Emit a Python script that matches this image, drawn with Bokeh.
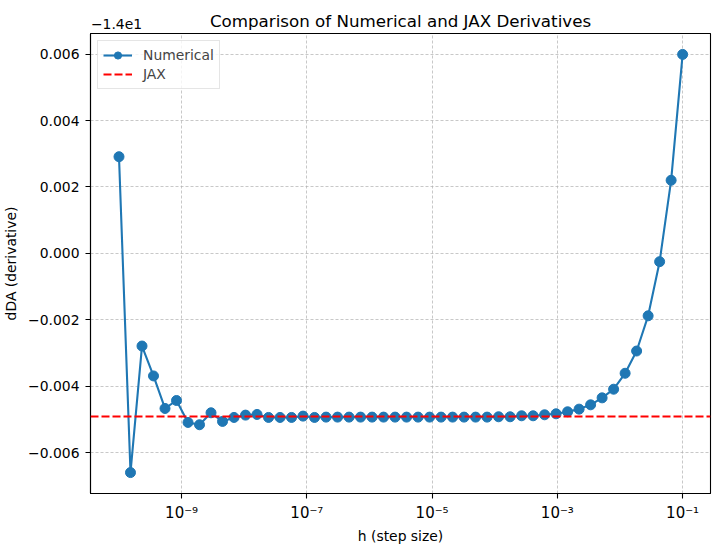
from bokeh.plotting import figure
from bokeh.models import (Range1d, FixedTicker, CustomJSTickFormatter, Span, LogAxis)
from bokeh.embed import file_html
from bokeh.resources import INLINE

# ---- data ----
h_values = [
    1.000e-10, 1.526e-10, 2.330e-10, 3.556e-10, 5.429e-10, 8.286e-10,
    1.265e-09, 1.931e-09, 2.947e-09, 4.498e-09, 6.866e-09,
    1.048e-08, 1.600e-08, 2.442e-08, 3.728e-08, 5.690e-08, 8.685e-08,
    1.326e-07, 2.024e-07, 3.089e-07, 4.715e-07, 7.197e-07,
    1.099e-06, 1.677e-06, 2.560e-06, 3.907e-06, 5.964e-06, 9.103e-06,
    1.389e-05, 2.121e-05, 3.237e-05, 4.942e-05, 7.543e-05,
    1.151e-04, 1.758e-04, 2.683e-04, 4.095e-04, 6.251e-04, 9.541e-04,
    1.456e-03, 2.223e-03, 3.393e-03, 5.179e-03, 7.906e-03,
    1.207e-02, 1.842e-02, 2.812e-02, 4.292e-02, 6.551e-02, 1.000e-01,
]
# derivative values shown relative to the axis offset (-1.4e1)
numerical_rel = [
    0.00291, -0.00660, -0.00279, -0.00369, -0.00467, -0.00443,
    -0.00509, -0.00516, -0.00480, -0.00506, -0.00494,
    -0.00487, -0.00485, -0.00494, -0.00494, -0.00494, -0.00490,
    -0.00494, -0.00493, -0.00493, -0.00493, -0.00493,
    -0.00493, -0.00493, -0.00493, -0.00493, -0.00493, -0.00493,
    -0.00493, -0.00493, -0.00493, -0.00493, -0.00493,
    -0.00492, -0.00492, -0.00489, -0.00489, -0.00486, -0.00483,
    -0.00477, -0.00469, -0.00456, -0.00435, -0.00409,
    -0.00361, -0.00294, -0.00188, -0.00025, 0.00220, 0.00599,
]
jax_rel = -0.00491
offset_text = "\u22121.4e1"
x_tick_values = [1e-9, 1e-7, 1e-5, 1e-3, 1e-1]
y_tick_values = [-0.006, -0.004, -0.002, 0.0, 0.002, 0.004, 0.006]

title_text = "Comparison of Numerical and JAX Derivatives"
x_label = "h (step size)"
y_label = "dDA (derivative)"

FONT = "DejaVu Sans"
BLUE = "#1f77b4"

x_start, x_end = 10 ** -10.455, 10 ** -0.555
p = figure(width=720, height=552, x_axis_type="log", title=None,
           x_range=Range1d(x_start, x_end),
           y_range=Range1d(-0.00723, 0.00662),
           output_backend="svg", toolbar_location=None,
           min_border_left=90, min_border_right=10,
           min_border_top=33, min_border_bottom=59)
p.background_fill_color = "white"
p.border_fill_color = "white"
p.outline_line_color = "black"
p.outline_line_width = 1.1

# grid
for g in (p.xgrid, p.ygrid):
    g.grid_line_color = "#b0b0b0"
    g.grid_line_width = 0.7
    g.grid_line_dash = "3 2"

# axes
p.xaxis.ticker = FixedTicker(ticks=x_tick_values, minor_ticks=[])
p.yaxis.ticker = FixedTicker(ticks=y_tick_values, minor_ticks=[])
p.xaxis.formatter = CustomJSTickFormatter(code="""
const e = Math.round(Math.log10(tick));
const sup = {'-':'\u207b','0':'\u2070','1':'\u00b9','2':'\u00b2','3':'\u00b3','4':'\u2074','5':'\u2075','6':'\u2076','7':'\u2077','8':'\u2078','9':'\u2079'};
return '10' + String(e).split('').map(c => sup[c]).join('');
""")
p.yaxis.formatter = CustomJSTickFormatter(code="""
let s = tick.toFixed(3);
if (s === '-0.000') s = '0.000';
return s.replace('-', '\u2212');
""")
for ax in (p.xaxis, p.yaxis):
    ax.axis_line_color = "black"
    ax.axis_line_width = 1.1
    ax.major_tick_line_color = "black"
    ax.major_tick_line_width = 1.1
    ax.major_tick_out = 5
    ax.major_tick_in = 0
    ax.minor_tick_out = 0
    ax.minor_tick_in = 0
    ax.major_label_text_font = FONT
    ax.major_label_text_font_size = "13.9px"
    ax.major_label_text_color = "black"
    ax.axis_label_text_font = FONT
    ax.axis_label_text_font_size = "13.9px"
    ax.axis_label_text_font_style = "normal"
    ax.axis_label_text_color = "black"
p.xaxis.axis_label = x_label
p.yaxis.axis_label = y_label
p.xaxis.major_label_text_font_size = "15px"
p.xaxis.major_label_standoff = 5
p.yaxis.major_label_standoff = 6
p.xaxis.axis_label_standoff = 3
p.yaxis.axis_label_standoff = 6

# top axis carrying the offset text (as its single tick label) and the title
offset_pos = x_start * 10 ** (26 / 62.63)
top = LogAxis(ticker=FixedTicker(ticks=[offset_pos], minor_ticks=[]),
              formatter=CustomJSTickFormatter(code="return '%s';" % offset_text),
              axis_label=title_text)
top.axis_line_color = None
top.major_tick_line_color = None
top.major_tick_out = 0
top.major_tick_in = 0
top.minor_tick_out = 0
top.minor_tick_in = 0
top.major_label_standoff = 5
top.major_label_text_font = FONT
top.major_label_text_font_size = "13.9px"
top.major_label_text_color = "black"
top.axis_label_standoff = -15
top.axis_label_text_font = FONT
top.axis_label_text_font_size = "16.7px"
top.axis_label_text_font_style = "normal"
top.axis_label_text_color = "black"
p.add_layout(top, "above")

# JAX reference line
p.add_layout(Span(location=jax_rel, dimension="width", line_color="red",
                  line_width=2.1, line_dash="8 3"))
p.line(x=h_values[:2], y=[float("nan")] * 2, line_color="red",
       line_width=2.1, line_dash="8 3", legend_label="JAX")

# numerical series
p.line(h_values, numerical_rel, line_color=BLUE, line_width=2.1,
       legend_label="Numerical")
p.scatter(h_values, numerical_rel, size=10, fill_color=BLUE,
          line_color=BLUE, legend_label="Numerical")

# reorder legend: Numerical first
items = p.legend[0].items
p.legend[0].items = [it for it in items if it.label.value == "Numerical"] + \
                    [it for it in items if it.label.value == "JAX"]

leg = p.legend[0]
leg.location = "top_left"
leg.margin = 7
leg.padding = 5
leg.spacing = 1
leg.glyph_width = 29
leg.glyph_height = 18
leg.label_height = 18
leg.label_standoff = 11
leg.label_text_font = FONT
leg.label_text_font_size = "13.9px"
leg.border_line_color = "#cccccc"
leg.border_line_width = 1
leg.background_fill_color = "white"
leg.background_fill_alpha = 0.8

open("out.html", "w").write(file_html(p, INLINE))
